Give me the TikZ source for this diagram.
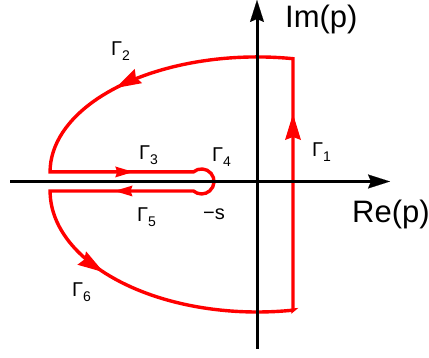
\documentclass[tikz,border=0pt]{standalone}
\usepackage{fontspec}
\setmainfont{Liberation Sans}
\usetikzlibrary{arrows.meta,decorations.markings}
\newcommand\Gsub[1]{Γ\raisebox{-5pt}{\fontsize{14}{14}\selectfont #1}}
\begin{document}
\begin{tikzpicture}[x=1pt,y=1pt,
  axistip/.tip={Stealth[length=22pt,width=14pt,inset=3pt,line width=0.1pt]},
  contour/.style={draw=red,line width=3.4pt},
  axis/.style={draw=black,line width=3pt,-axistip},
  bigmark/.style={decorate,decoration={markings,mark=at position #1 with {\fill[red] (0pt,0pt) -- (-26pt,8pt) -- (-23pt,0pt) -- (-26pt,-8pt) -- cycle;}}},
  smallmark/.style={decorate,decoration={markings,mark=at position #1 with {\fill[red] (0pt,0pt) -- (-18pt,5.5pt) -- (-16pt,0pt) -- (-18pt,-5.5pt) -- cycle;}}},
  glabel/.style={font=\fontsize{20}{20}\selectfont,inner sep=0pt,anchor=base west},
  axlabel/.style={font=\fontsize{31}{31}\selectfont,inner sep=0pt,anchor=base west}]
\useasboundingbox (0,0) rectangle (429,358);
% contour points
\coordinate (B) at (293,47.8);
\coordinate (T) at (293,299.3);
\coordinate (UL) at (50.1,186.05);
\coordinate (LL) at (50.1,167);
\coordinate (UJ) at (193.4,186.05);
\coordinate (LJ) at (193.4,167);
% contour
\draw[contour] (B) -- (T)
  arc[start angle=80,end angle=180,x radius=207,y radius=115]
  -- (UJ) arc[start angle=130.5,end angle=-130.5,radius=12.5]
  -- (LL) arc[start angle=180,end angle=280,x radius=207,y radius=121]
  -- cycle;
% direction arrows
\path[bigmark=0.78] (B) -- (T);
\path[bigmark=0.62] (T) arc[start angle=80,end angle=180,x radius=207,y radius=115];
\path[smallmark=0.58] (UL) -- (UJ);
\path[smallmark=0.55] (LJ) -- (LL);
\path[bigmark=0.34] (LL) arc[start angle=180,end angle=280,x radius=207,y radius=121];
% axes
\coordinate (xl) at (10,176.5);
\coordinate (xr) at (390,176.5);
\coordinate (yb) at (257,9);
\coordinate (yt) at (257,358);
\draw[axis] (xl) -- (xr);
\draw[axis] (yb) -- (yt);
% labels
\node[axlabel] (im) at (285,330) {Im(p)};
\node[axlabel] (re) at (352,135) {Re(p)};
\node[glabel] (g1) at (312,201) {\Gsub{1}};
\node[glabel] (g2) at (111,302) {\Gsub{2}};
\node[glabel] (g3) at (139,198) {\Gsub{3}};
\node[glabel] (g4) at (212,196) {\Gsub{4}};
\node[glabel] (g5) at (137,136.5) {\Gsub{5}};
\node[glabel] (s) at (203,138.7) {−s};
\node[glabel] (g6) at (72,61.5) {\Gsub{6}};
\end{tikzpicture}
\end{document}
